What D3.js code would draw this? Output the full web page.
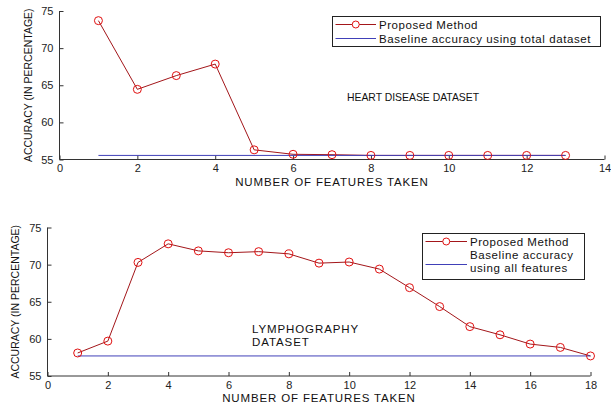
<!DOCTYPE html>
<html>
<head>
<meta charset="utf-8">
<script src="https://cdn.jsdelivr.net/npm/d3@7"></script>
<style>
  body { margin: 0; background: #fff; }
  text { font-family: "Liberation Sans", Arial, sans-serif; fill: #111; }
</style>
</head>
<body>
<div id="chart"></div>
<script>
// Heart disease panel
const heartFeatures = [1, 2, 3, 4, 5, 6, 7, 8, 9, 10, 11, 12, 13];
const heartAccuracy = [73.7, 64.45, 66.3, 67.85, 56.3, 55.7, 55.65, 55.55, 55.55, 55.55, 55.55, 55.55, 55.55];
const heartBaseline = 55.55;
const heartXTicks = [0, 2, 4, 6, 8, 10, 12, 14];

// Lymphography panel
const lymphFeatures = [1, 2, 3, 4, 5, 6, 7, 8, 9, 10, 11, 12, 13, 14, 15, 16, 17, 18];
const lymphAccuracy = [58.1, 59.7, 70.3, 72.8, 71.85, 71.6, 71.75, 71.45, 70.2, 70.35, 69.4, 66.9, 64.35, 61.65, 60.55, 59.3, 58.85, 57.7];
const lymphBaseline = 57.7;
const lymphXTicks = [0, 2, 4, 6, 8, 10, 12, 14, 16, 18];

const yTicks = [55, 60, 65, 70, 75];

const lineColor = "#a3161a";
const markerColor = "#e01010";
const baseColor = "#4040b8";

var svg = d3.select("#chart").append("svg")
    .attr("width", 611)
    .attr("height", 407);

function drawPanel(opt) {
    var x = d3.scaleLinear().domain(opt.xDomain).range([opt.left, opt.right]);
    var y = d3.scaleLinear().domain([55, 75]).range([opt.bottom, opt.top]);
    var g = svg.append("g");

    // axes (MATLAB style, ticks inward)
    var xAxis = d3.axisBottom(x).tickValues(opt.xTicks).tickSize(-4).tickPadding(5).tickFormat(d3.format("d"));
    var yAxis = d3.axisLeft(y).tickValues(yTicks).tickSize(-4).tickPadding(6);

    g.append("g")
        .attr("transform", "translate(0," + opt.bottom + ")")
        .call(xAxis)
        .call(a => a.select(".domain").attr("d", "M" + opt.left + ",0H" + opt.right))
        .style("font-size", "11px");
    g.append("g")
        .attr("transform", "translate(" + opt.left + ",0)")
        .call(yAxis)
        .call(a => a.select(".domain").attr("d", "M0," + opt.top + "V" + opt.bottom))
        .style("font-size", "11px");
    g.selectAll(".domain, .tick line").attr("stroke", "#333");
    g.selectAll(".tick text").style("fill", "#222");

    // proposed method line
    var line = d3.line().x(d => x(d[0])).y(d => y(d[1]));
    var pts = opt.features.map((f, i) => [f, opt.accuracy[i]]);
    g.append("path")
        .datum(pts)
        .attr("d", line)
        .attr("fill", "none")
        .attr("stroke", lineColor)
        .attr("stroke-width", 1);

    // baseline
    g.append("line")
        .attr("x1", x(opt.features[0]))
        .attr("x2", x(opt.features[opt.features.length - 1]))
        .attr("y1", y(opt.baseline))
        .attr("y2", y(opt.baseline))
        .attr("stroke", baseColor)
        .attr("stroke-width", 1);

    g.selectAll("circle.pt")
        .data(pts)
        .enter().append("circle")
        .attr("class", "pt")
        .attr("cx", d => x(d[0]))
        .attr("cy", d => y(d[1]))
        .attr("r", 4)
        .attr("fill", "none")
        .attr("stroke", markerColor)
        .attr("stroke-width", 1);

    // axis labels
    g.append("text")
        .attr("text-anchor", "middle")
        .attr("x", (opt.left + opt.right) / 2)
        .attr("y", opt.bottom + 26)
        .style("font-size", "11.5px")
        .style("letter-spacing", "0.85px")
        .text("NUMBER OF FEATURES TAKEN");
    g.append("text")
        .attr("text-anchor", "middle")
        .attr("transform", "rotate(-90)")
        .attr("x", -(opt.top + opt.bottom) / 2)
        .attr("y", opt.yLabelX)
        .style("font-size", "10.5px")
        .text("ACCURACY (IN PERCENTAGE)");

    // dataset caption
    opt.caption.forEach(function (t, i) {
        g.append("text")
            .attr("x", opt.captionX)
            .attr("y", opt.captionY + i * 13)
            .style("font-size", opt.captionSize)
            .style("letter-spacing", opt.captionSpacing)
            .text(t);
    });

    // legend
    var lg = opt.legend;
    g.append("rect")
        .attr("x", lg.x).attr("y", lg.y)
        .attr("width", lg.w).attr("height", lg.h)
        .attr("fill", "#fff")
        .attr("stroke", "#222")
        .attr("stroke-width", 1);
    g.append("line")
        .attr("x1", lg.x + 3).attr("x2", lg.textX - 3)
        .attr("y1", lg.row1).attr("y2", lg.row1)
        .attr("stroke", lineColor);
    g.append("circle")
        .attr("cx", (lg.x + lg.textX) / 2).attr("cy", lg.row1)
        .attr("r", 3.5)
        .attr("fill", "#fff")
        .attr("stroke", markerColor);
    g.append("text")
        .attr("x", lg.textX).attr("y", lg.row1 + 4)
        .style("font-size", "11.5px")
        .style("letter-spacing", "0.55px")
        .text("Proposed Method");
    g.append("line")
        .attr("x1", lg.x + 3).attr("x2", lg.textX - 3)
        .attr("y1", lg.row2).attr("y2", lg.row2)
        .attr("stroke", baseColor);
    lg.baseText.forEach(function (t, i) {
        g.append("text")
            .attr("x", lg.textX).attr("y", lg.baseTextY + i * 13)
            .style("font-size", "11.5px")
            .style("letter-spacing", "0.6px")
            .text(t);
    });
}

drawPanel({
    features: heartFeatures,
    accuracy: heartAccuracy,
    baseline: heartBaseline,
    xDomain: [0, 14],
    xTicks: heartXTicks,
    left: 59.5, right: 604.5, top: 11, bottom: 159.5,
    yLabelX: 32,
    caption: ["HEART DISEASE DATASET"],
    captionX: 347, captionY: 101,
    captionSize: "10.4px", captionSpacing: "0px",
    legend: {
        x: 332.5, y: 16.5, w: 268, h: 30,
        textX: 379, row1: 24.5, row2: 38.5,
        baseText: ["Baseline accuracy using total dataset"], baseTextY: 42.5
    }
});

drawPanel({
    features: lymphFeatures,
    accuracy: lymphAccuracy,
    baseline: lymphBaseline,
    xDomain: [0, 18],
    xTicks: lymphXTicks,
    left: 47.5, right: 590.5, top: 227.5, bottom: 376,
    yLabelX: 19,
    caption: ["LYMPHOGRAPHY", "DATASET"],
    captionX: 252, captionY: 333,
    captionSize: "11.5px", captionSpacing: "0.9px",
    legend: {
        x: 422.5, y: 233.5, w: 162, h: 46,
        textX: 470, row1: 241.5, row2: 264.5,
        baseText: ["Baseline accuracy", "using all features"], baseTextY: 259
    }
});
</script>
</body>
</html>
